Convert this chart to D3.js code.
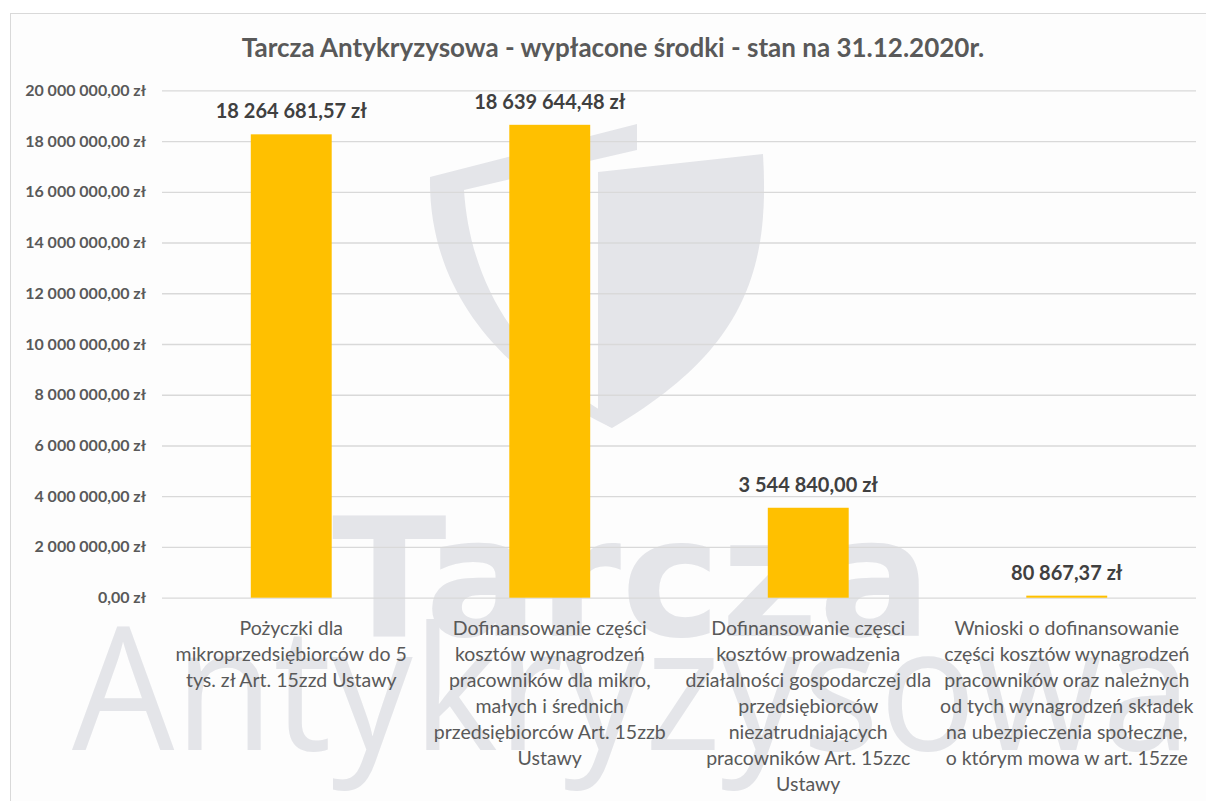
<!DOCTYPE html>
<html>
<head>
<meta charset="utf-8">
<script src="https://cdn.jsdelivr.net/npm/d3@7"></script>
<style>
	body { margin: 0; background: #fff; }
	svg text { font-family: Lato, "Open Sans", sans-serif; }
</style>
</head>
<body>
<svg id="chart"></svg>
<script>
// Data
var categories = [
	["Pożyczki dla", "mikroprzedsiębiorców do 5", "tys. zł Art. 15zzd Ustawy"],
	["Dofinansowanie części", "kosztów wynagrodzeń", "pracowników dla mikro,", "małych i średnich", "przedsiębiorców Art. 15zzb", "Ustawy"],
	["Dofinansowanie częsci", "kosztów prowadzenia", "działalności gospodarczej dla", "przedsiębiorców", "niezatrudniających", "pracowników Art. 15zzc", "Ustawy"],
	["Wnioski o dofinansowanie", "części kosztów wynagrodzeń", "pracowników oraz należnych", "od tych wynagrodzeń składek", "na ubezpieczenia społeczne,", "o którym mowa w art. 15zze"]
];
var values = [18264681.57, 18639644.48, 3544840.00, 80867.37];
var yTicks = [0, 2000000, 4000000, 6000000, 8000000, 10000000, 12000000, 14000000, 16000000, 18000000, 20000000];
var title = "Tarcza Antykryzysowa - wypłacone środki - stan na 31.12.2020r.";

var width = 1206,
	height = 801;

var svg = d3.select("#chart")
	.attr("width", width)
	.attr("height", height);

var pl = d3.formatLocale({
	decimal: ",",
	thousands: "\u00a0",
	grouping: [3],
	currency: ["", "\u00a0zł"]
});
var fmt = pl.format("$,.2f");

// Chart frame
svg.append("rect")
	.attr("x", 10.5)
	.attr("y", 13.5)
	.attr("width", 1210)
	.attr("height", 800)
	.attr("fill", "#fdfdfd")
	.attr("stroke", "#d9d9d9");

// Watermark
var wm = svg.append("g").attr("fill", "#e4e5e9");
wm.append("path")
	.attr("d", "M430,177 L637,124 L637,150 L464,190 C470,285 520,360 600,410 L612,428 C500,375 428,290 430,177 Z");
wm.append("path")
	.attr("d", "M598,172 L763,154 C770,270 745,350 612,428 L598,420 Z");
wm.append("text")
	.attr("x", 632)
	.attr("y", 636)
	.attr("text-anchor", "middle")
	.attr("textLength", 600)
	.attr("lengthAdjust", "spacingAndGlyphs")
	.style("font-family", "'DejaVu Sans', sans-serif")
	.style("font-weight", "bold")
	.style("font-size", "165px")
	.text("Tarcza");
wm.append("text")
	.attr("x", 632)
	.attr("y", 750)
	.attr("text-anchor", "middle")
	.attr("textLength", 1120)
	.attr("lengthAdjust", "spacingAndGlyphs")
	.style("font-family", "'Open Sans', sans-serif")
	.style("font-weight", "400")
	.style("font-size", "172px")
	.text("Antykryzysowa");

// Scales
var x = d3.scaleBand()
	.domain(d3.range(values.length))
	.range([162, 1196])
	.paddingInner(0.687)
	.paddingOuter(0.3435);

var y = d3.scaleLinear()
	.domain([0, 20000000])
	.range([597.7, 90.3]);

// Gridlines
svg.append("g")
	.attr("transform", "translate(162,0)")
	.call(d3.axisLeft(y).tickValues(yTicks).tickSize(-(1196 - 162)).tickFormat(""))
	.call(function(g){
		g.select(".domain").remove();
		g.selectAll("line").attr("stroke", "#d9d9d9").attr("stroke-width", 1.3);
	});

// Y tick labels
svg.append("g")
	.selectAll("text")
	.data(yTicks)
	.enter()
		.append("text")
			.attr("x", 146)
			.attr("y", function(d){ return y(d) + 5.5; })
			.attr("text-anchor", "end")
			.attr("fill", "#595959")
			.style("font-size", "16px")
			.style("font-weight", "bold")
			.text(function(d){ return fmt(d); });

// Bars
svg.append("g")
	.selectAll("rect")
	.data(values)
	.enter()
		.append("rect")
			.attr("x", function(d, i){ return x(i); })
			.attr("y", function(d){ return y(d); })
			.attr("width", x.bandwidth())
			.attr("height", function(d){ return y(0) - y(d); })
			.attr("fill", "#ffc000");

// Value labels
svg.append("g")
	.selectAll("text")
	.data(values)
	.enter()
		.append("text")
			.attr("x", function(d, i){ return x(i) + x.bandwidth() / 2; })
			.attr("y", function(d){ return y(d) - 16; })
			.attr("text-anchor", "middle")
			.attr("fill", "#404040")
			.style("font-size", "20px")
			.style("font-weight", "bold")
			.text(function(d){ return fmt(d); });

// Category labels
svg.append("g")
	.selectAll("text")
	.data(categories)
	.enter()
		.append("text")
			.attr("text-anchor", "middle")
			.attr("fill", "#595959")
			.style("font-size", "19.5px")
			.each(function(lines, i){
				var cx = x(i) + x.bandwidth() / 2;
				d3.select(this).selectAll("tspan")
					.data(lines)
					.enter()
						.append("tspan")
							.attr("x", cx)
							.attr("y", function(d, j){ return 635 + j * 26; })
							.text(function(d){ return d; });
			});

// Title
svg.append("text")
	.attr("x", 613)
	.attr("y", 57)
	.attr("text-anchor", "middle")
	.attr("fill", "#595959")
	.style("font-size", "26px")
	.style("font-weight", "bold")
	.text(title);
</script>
</body>
</html>
